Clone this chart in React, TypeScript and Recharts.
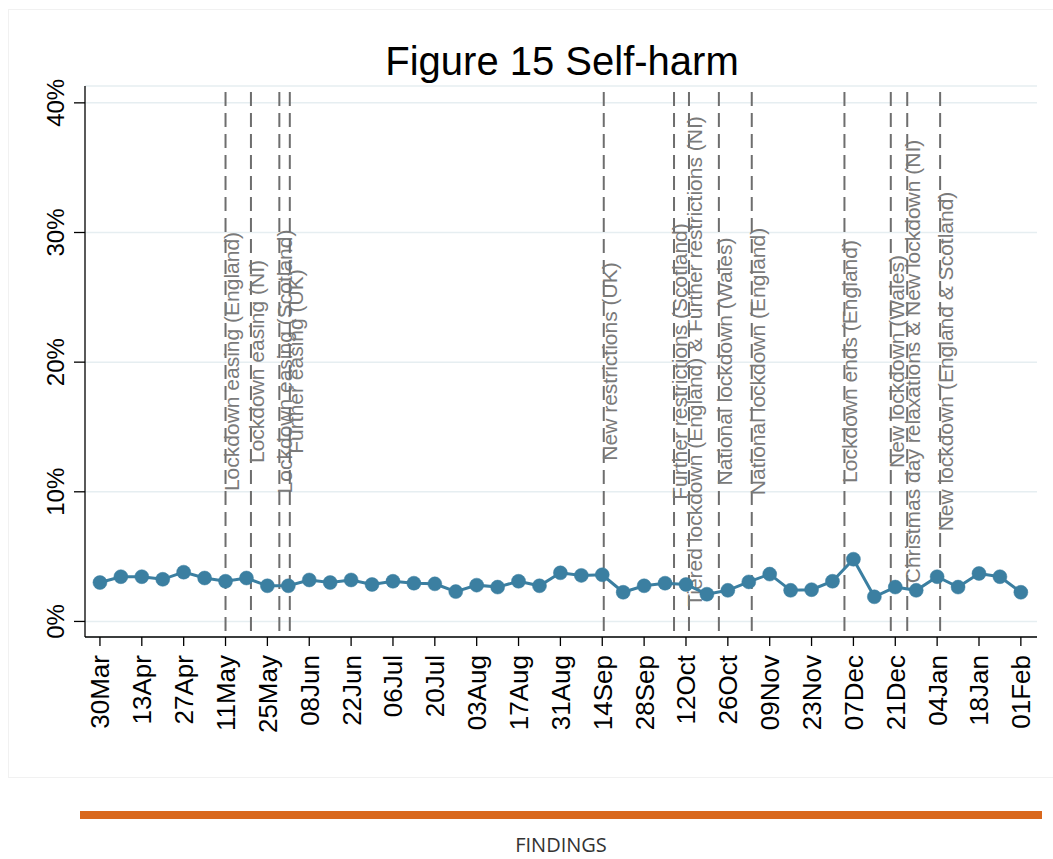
import React from 'react';
import { LineChart, Line, XAxis, YAxis, CartesianGrid, ReferenceLine } from 'recharts';

// weekly points, 30 Mar 2020 to 01 Feb 2021
const weeks = [
  '30Mar', '06Apr', '13Apr', '20Apr', '27Apr', '04May', '11May', '18May', '25May',
  '01Jun', '08Jun', '15Jun', '22Jun', '29Jun', '06Jul', '13Jul', '20Jul', '27Jul',
  '03Aug', '10Aug', '17Aug', '24Aug', '31Aug', '07Sep', '14Sep', '21Sep', '28Sep',
  '05Oct', '12Oct', '19Oct', '26Oct', '02Nov', '09Nov', '16Nov', '23Nov', '30Nov',
  '07Dec', '14Dec', '21Dec', '28Dec', '04Jan', '11Jan', '18Jan', '25Jan', '01Feb',
];

const selfHarm = [
  3.0, 3.45, 3.45, 3.25, 3.8, 3.35, 3.1, 3.35, 2.75,
  2.75, 3.2, 3.0, 3.2, 2.85, 3.1, 2.95, 2.9, 2.3,
  2.8, 2.65, 3.1, 2.75, 3.75, 3.55, 3.6, 2.25, 2.75,
  2.95, 2.85, 2.1, 2.4, 3.05, 3.65, 2.4, 2.45, 3.1,
  4.8, 1.9, 2.65, 2.4, 3.45, 2.65, 3.7, 3.45, 2.25,
];

// every other week gets a tick label
const tickLabels = weeks.filter((_, i) => i % 2 === 0);
const yTicks = [0, 10, 20, 30, 40];

// policy events, in days after 30 Mar 2020
const eventNames = [
  'Lockdown easing (England)',
  'Lockdown easing (NI)',
  'Lockdown easing (Scotland)',
  'Further easing (UK)',
  'New restrictions (UK)',
  'Further restrictions (Scotland)',
  'Tiered lockdown (England) & Further restrictions (NI)',
  'National lockdown (Wales)',
  'National lockdown (England)',
  'Lockdown ends (England)',
  'New lockdown (Wales)',
  'Christmas day relaxations & New lockdown (NI)',
  'New lockdown (England & Scotland)',
];
const eventDays = [42, 50.5, 60, 63.5, 168.5, 192, 197, 207, 218, 249, 264.5, 270, 281];

const data = selfHarm.map((v, i) => ({ week: weeks[i], day: i * 7, value: v }));
const tickDays = tickLabels.map((_, i) => i * 14);

const FONT = '"Liberation Sans", Arial, Helvetica, sans-serif';
const BLUE = '#3b7fa1';

const XTick = ({ x, y, payload }: any) => {
  const label = tickLabels[Math.round(payload.value / 14)];
  return (
    <text
      transform={`translate(${x + 9.5},${y + 7}) rotate(-90)`}
      textAnchor="end"
      fontSize={26}
      fontFamily={FONT}
      fill="#000"
    >
      {label}
    </text>
  );
};

const YTick = ({ y, payload }: any) => (
  <text
    transform={`translate(64,${y}) rotate(-90)`}
    textAnchor="middle"
    fontSize={24}
    fontFamily={FONT}
    fill="#000"
  >
    {payload.value}%
  </text>
);

const eventLabel = (text: string) => (props: any) => {
  const vb = props.viewBox || {};
  const cy = vb.y + vb.height / 2;
  return (
    <text
      transform={`translate(${vb.x + 13},${cy}) rotate(-90)`}
      textAnchor="middle"
      fontSize={21}
      fontFamily={FONT}
      fill="#7a7a7a"
    >
      {text}
    </text>
  );
};

export default function App() {
  return (
    <div style={{ position: 'absolute', left: 0, top: 0, width: 1053, height: 859, background: '#fff', overflow: 'hidden' }}>
      <div
        style={{
          position: 'absolute', left: 8, top: 9, width: 1060, height: 769,
          border: '1px solid #f1f1f1', boxSizing: 'border-box',
        }}
      />
      <div
        style={{
          position: 'absolute', left: 0, width: 1124, top: 38, textAlign: 'center',
          fontFamily: FONT, fontSize: 40, color: '#000', lineHeight: '46px',
        }}
      >
        Figure 15 Self-harm
      </div>
      <div style={{ position: 'absolute', left: 0, top: 0 }}>
        <LineChart width={1053} height={780} data={data} margin={{ top: 86, right: 16, left: 0, bottom: 0 }}>
          <CartesianGrid vertical={false} stroke="#e6eef1" strokeWidth={1.5} />
          <XAxis
            dataKey="day"
            type="number"
            domain={[-5, 313.4]}
            ticks={tickDays}
            interval={0}
            height={143}
            tick={<XTick />}
            tickSize={9}
            tickLine={{ stroke: '#000', strokeWidth: 1.3 }}
            axisLine={{ stroke: '#000', strokeWidth: 1.3 }}
            allowDataOverflow
          />
          <YAxis
            type="number"
            domain={[-1.2, 41.3]}
            ticks={yTicks}
            interval={0}
            width={85}
            tick={<YTick />}
            tickSize={11}
            tickLine={{ stroke: '#000', strokeWidth: 1.3 }}
            axisLine={{ stroke: '#000', strokeWidth: 1.3 }}
            allowDataOverflow
          />
          {eventDays.map((d, i) => (
            <ReferenceLine
              key={eventNames[i]}
              x={d}
              stroke="#6e6e6e"
              strokeWidth={2}
              strokeDasharray="14 7"
              strokeDashoffset={-6}
              label={eventLabel(eventNames[i])}
            />
          ))}
          <Line
            type="linear"
            dataKey="value"
            stroke={BLUE}
            strokeWidth={3}
            dot={{ r: 7, fill: BLUE, stroke: BLUE, strokeWidth: 0.5 }}
            activeDot={false}
            isAnimationActive={false}
          />
        </LineChart>
      </div>
      <div style={{ position: 'absolute', left: 80, top: 811, width: 962, height: 8, background: '#d9681d' }} />
      <div
        style={{
          position: 'absolute', left: 0, width: 1122, top: 832, textAlign: 'center',
          fontFamily: '"Open Sans", sans-serif', fontSize: 20, color: '#333', lineHeight: '26px',
        }}
      >
        FINDINGS
      </div>
    </div>
  );
}
